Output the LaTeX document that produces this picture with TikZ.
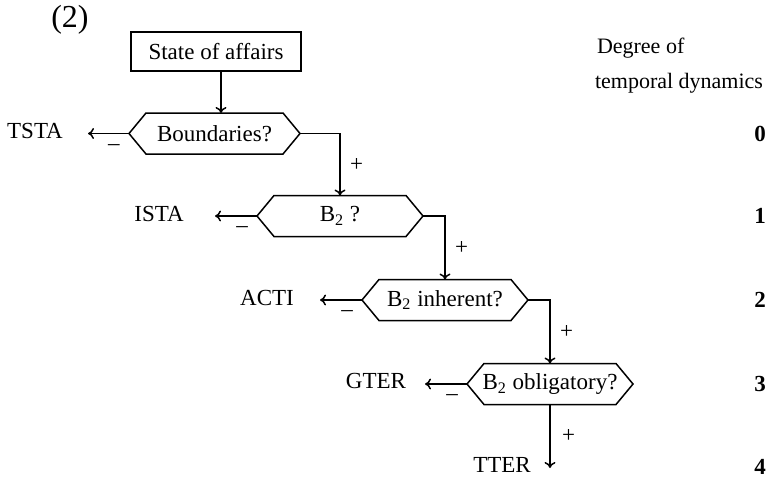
\documentclass[tikz,border=0pt]{standalone}
\usepackage{fontspec}
\setmainfont{Liberation Serif}
\usetikzlibrary{arrows.meta}
\tikzset{
  every node/.style={font=\fontsize{11.5pt}{13.5pt}\selectfont, inner sep=0pt, outer sep=0pt},
  line/.style={line width=0.75pt},
  arr/.style={line, -{To[length=3pt,width=5.5pt]}},
  hexq/.style={rectangle, minimum width=83pt, minimum height=20.5pt},
  boxq/.style={draw, line, rectangle, minimum width=85pt, minimum height=19.5pt},
  lab/.style={},
  deg/.style={font=\fontsize{11.5pt}{13.5pt}\selectfont\bfseries},
  sign/.style={},
  col/.style={anchor=west, font=\fontsize{11pt}{13pt}\selectfont},
}
\begin{document}
\begin{tikzpicture}[x=0.5pt,y=-0.5pt]
\useasboundingbox (0,0) rectangle (767,479);

\node[font=\fontsize{16pt}{18pt}\selectfont] (num) at (70,20) {(2)};
\node[boxq] (sa) at (216,51.5) {State of affairs};

\node[hexq, minimum width=85.5pt] (b1) at (214.5,133.5) {Boundaries?};
\node[hexq] (b2) at (340,216) {B\textsubscript{2} ?};
\node[hexq] (b3) at (445,300) {B\textsubscript{2} inherent?};
\node[hexq] (b4) at (550,384) {B\textsubscript{2} obligatory?};

\foreach \n in {b1,b2,b3,b4}
  \draw[line] (\n.west) -- ([xshift=8.5pt]\n.north west) -- ([xshift=-8.5pt]\n.north east)
     -- (\n.east) -- ([xshift=-8.5pt]\n.south east) -- ([xshift=8.5pt]\n.south west) -- cycle;

% outcome labels
\node[lab] (tsta) at (35,131) {TSTA};
\node[lab] (ista) at (159,214) {ISTA};
\node[lab] (acti) at (267,298) {ACTI};
\node[lab] (gter) at (376,381) {GTER};
\node[lab] (tter) at (502,465) {TTER};

\coordinate (t1) at (88,133.5);
\coordinate (t2) at (215,216);
\coordinate (t3) at (320,300);
\coordinate (t4) at (425,384);
\coordinate (t5) at (550,468);

% connectors
\draw[arr] ([xshift=2.5pt]sa.south) -- ([xshift=2.5pt]sa.south |- b1.north);
\draw[arr] (b1.west) -- (t1);
\draw[arr] (b2.west) -- (t2);
\draw[arr] (b3.west) -- (t3);
\draw[arr] (b4.west) -- (t4);
\draw[arr] (b1.east) -| node[pos=0.75, right=5pt] {+} (b2.north);
\draw[arr] (b2.east) -| node[pos=0.75, right=5pt] {+} (b3.north);
\draw[arr] (b3.east) -| node[pos=0.75, right=5pt] {+} (b4.north);
\draw[arr] (b4.south) -- node[pos=0.5, right=6pt] {+} (t5);

% minus signs
\foreach \n in {b1,b2,b3,b4}
  \node[sign] at ([xshift=-7.5pt,yshift=-7pt]\n.west) {–};

% degree column
\node[col] (dg1) at (597,48) {Degree of};
\node[col] (dg2) at (595,83) {temporal dynamics};
\node[deg] (d0) at (760,134) {0};
\node[deg] (d1) at (760,216) {1};
\node[deg] (d2) at (760,300) {2};
\node[deg] (d3) at (760,384) {3};
\node[deg] (d4) at (760,467) {4};
\end{tikzpicture}
\end{document}
